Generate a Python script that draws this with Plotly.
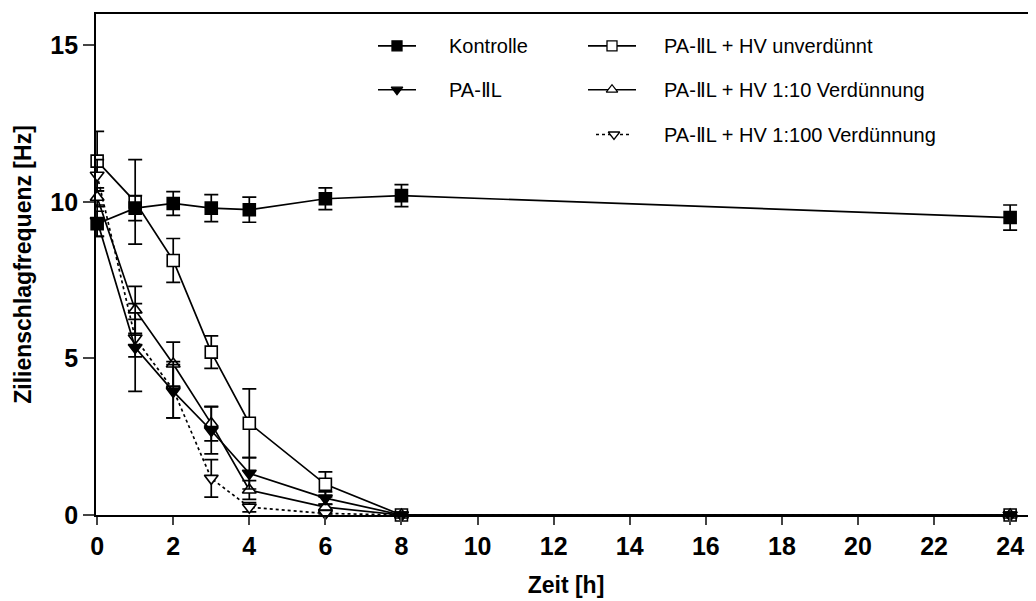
import plotly.graph_objects as go

# ---- data ----
zeit = [0, 1, 2, 3, 4, 6, 8, 24]
kontrolle = [9.3, 9.8, 9.95, 9.8, 9.75, 10.1, 10.2, 9.5]
kontrolle_err = [0.4, 0.4, 0.38, 0.43, 0.4, 0.35, 0.35, 0.4]
pa_iil = [9.4, 5.35, 3.95, 2.7, 1.33, 0.54, 0, 0]
pa_iil_err = [0.5, 1.4, 0.85, 0.75, 0.5, 0.2, 0, 0]
hv_unverduennt = [11.3, 10.0, 8.13, 5.2, 2.93, 0.98, 0, 0]
hv_unverduennt_err = [0.95, 1.35, 0.7, 0.52, 1.1, 0.4, 0, 0]
hv_1_10 = [10.15, 6.55, 4.82, 2.92, 0.8, 0.25, 0, 0]
hv_1_10_err = [0.3, 0.75, 0.7, 0.55, 0.3, 0.1, 0, 0]
hv_1_100 = [10.85, 5.65, 4.0, 1.17, 0.25, 0.05, 0, 0]
hv_1_100_err = [0.5, 0.6, 0.9, 0.6, 0.15, 0.05, 0, 0]

x_ticks = [0, 2, 4, 6, 8, 10, 12, 14, 16, 18, 20, 22, 24]
y_ticks = [0, 5, 10, 15]

names = ["Kontrolle", "PA-ⅡL", "PA-ⅡL + HV unverdünnt",
         "PA-ⅡL + HV 1:10 Verdünnung", "PA-ⅡL + HV 1:100 Verdünnung"]

# (values, errors, symbol, filled, dash, name)
series = [
    (hv_unverduennt, hv_unverduennt_err, "square", False, "solid", names[2]),
    (hv_1_10, hv_1_10_err, "triangle-up", False, "solid", names[3]),
    (hv_1_100, hv_1_100_err, "triangle-down", False, "dot", names[4]),
    (pa_iil, pa_iil_err, "triangle-down", True, "solid", names[1]),
    (kontrolle, kontrolle_err, "square", True, "solid", names[0]),
]

FONT = "Liberation Sans, Arial, sans-serif"

fig = go.Figure()
for vals, err, sym, filled, dash, nm in series:
    fig.add_trace(go.Scatter(
        x=zeit, y=vals, name=nm, mode="lines+markers",
        line=dict(color="black", width=1.7, dash=dash),
        marker=dict(symbol=sym, size=12, color="black" if filled else "white",
                    line=dict(color="black", width=1.6)),
        error_y=dict(type="data", array=err, visible=True, color="black",
                     thickness=1.7, width=7),
        cliponaxis=False, showlegend=False,
    ))

# ---- legend drawn on an overlay axis in screen-pixel coordinates ----
leg = [
    # (line x0, x1, y, symbol, filled, dash, text x, label)
    (378, 416, 44, "square", True, "solid", 447, names[0]),
    (378, 416, 88, "triangle-down", True, "solid", 447, names[1]),
    (588, 636, 44, "square", False, "solid", 662, names[2]),
    (588, 636, 88, "triangle-up", False, "solid", 662, names[3]),
    (596, 632, 133, "triangle-down", False, "dot", 662, names[4]),
]
for x0, x1, yy, sym, filled, dash, tx, label in leg:
    fig.add_trace(go.Scatter(
        x=[x0, x1], y=[yy, yy], xaxis="x2", yaxis="y2",
        mode="lines", line=dict(color="black", width=1.6, dash=dash),
        showlegend=False, hoverinfo="skip"))
    fig.add_trace(go.Scatter(
        x=[(x0 + x1) / 2], y=[yy], xaxis="x2", yaxis="y2", mode="markers",
        marker=dict(symbol=sym, size=10, color="black" if filled else "white",
                    line=dict(color="black", width=1.3)),
        showlegend=False, hoverinfo="skip"))
    fig.add_annotation(x=tx, y=yy, xref="x2", yref="y2", text=label,
                       showarrow=False, xanchor="left", yanchor="middle",
                       font=dict(family=FONT, size=20, color="black"))

# page body has an 8px default margin -> plot area at screen x 96..1036, y 12..515
fig.update_layout(
    width=1036, height=601,
    margin=dict(l=88, r=8, t=4, b=94),
    paper_bgcolor="white", plot_bgcolor="white",
    font=dict(family=FONT, color="black"),
    xaxis=dict(range=[-0.03, 24.68], tickvals=x_ticks, ticks="outside", ticklen=8,
               tickwidth=1.7, showline=True, linecolor="black", linewidth=1.7,
               mirror=True, showgrid=False, zeroline=False,
               tickfont=dict(family=FONT, size=25, weight="bold"),
               title=dict(text="Zeit [h]", font=dict(family=FONT, size=23, weight="bold"), standoff=18)),
    yaxis=dict(range=[0, 16], tickvals=y_ticks, ticks="outside", ticklen=11,
               tickwidth=1.7, showline=True, linecolor="black", linewidth=1.7,
               showgrid=False, zeroline=False,
               tickfont=dict(family=FONT, size=25, weight="bold"),
               title=dict(text="Zilienschlagfrequenz [Hz]", font=dict(family=FONT, size=23, weight="bold"), standoff=12)),
    xaxis2=dict(range=[96, 1036], overlaying="x", visible=False, anchor="y2"),
    yaxis2=dict(range=[515, 12], overlaying="y", visible=False, anchor="x2"),
)

fig.write_html("out.html")
